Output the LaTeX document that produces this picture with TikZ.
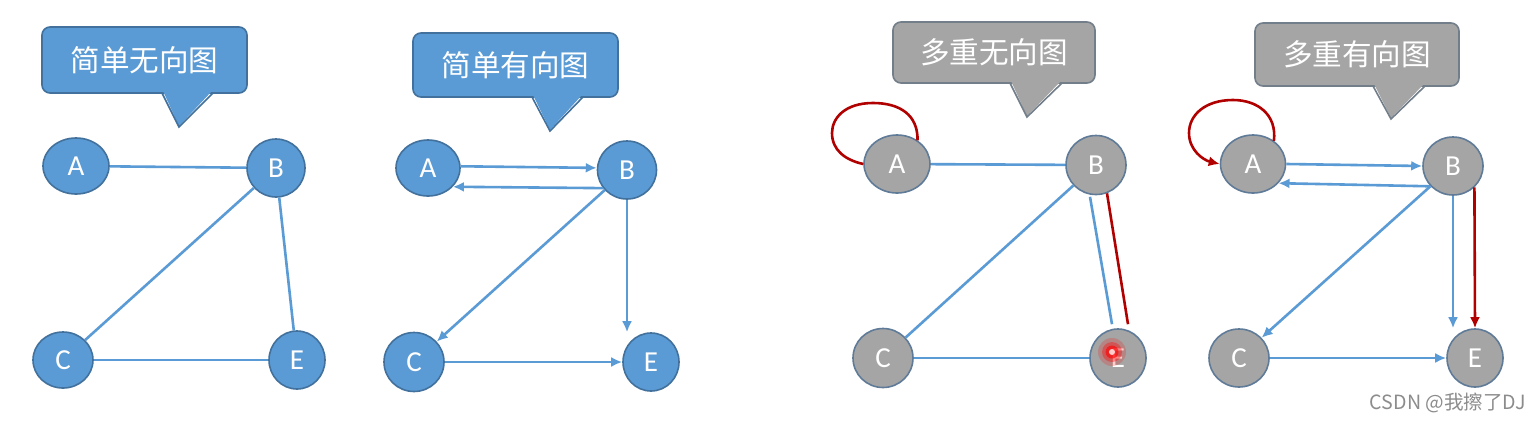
\documentclass[tikz,border=0pt]{standalone}
\usepackage{fontspec}
\setmainfont{Carlito}
\newfontfamily\cjk{Noto Sans CJK SC}
\usetikzlibrary{shapes.geometric,arrows.meta,calc}
\definecolor{bfill}{HTML}{5B9BD5}
\definecolor{bdraw}{HTML}{41719C}
\definecolor{gfill}{HTML}{A5A5A5}
\definecolor{gdraw}{HTML}{5F7B98}
\definecolor{cgdraw}{HTML}{727E8A}
\definecolor{eline}{HTML}{5B9BD5}
\definecolor{rline}{HTML}{B00000}
\definecolor{wm}{HTML}{8C8C8C}
\tikzset{
  vtx/.style={ellipse, inner sep=0pt, text=white, font=\fontsize{14.5}{15}\selectfont, line width=0.8pt},
  bv/.style={vtx, fill=bfill, draw=bdraw},
  gv/.style={vtx, fill=gfill, draw=gdraw},
  edgeline/.style={draw=eline, line width=1.3pt},
  arr/.style={edgeline, -{Latex[length=5.5pt,width=5pt]}},
  redline/.style={draw=rline, line width=1.3pt},
  rarr/.style={redline, -{Latex[length=5.5pt,width=5pt]}},
  callbox/.style={rectangle, rounded corners=4pt, inner sep=0pt, text=white,
    font=\cjk\fontsize{14.8}{16}\selectfont, line width=0.8pt},
  bcall/.style={callbox, fill=bfill, draw=bdraw},
  gcall/.style={callbox, fill=gfill, draw=cgdraw},
}
\begin{document}
\begin{tikzpicture}[x=0.5pt,y=-0.5pt]
\useasboundingbox[fill=white] (0,0) rectangle (1537,424);

% ---------- Panel 1 ----------
\node[bcall, minimum width=102.5pt, minimum height=33pt] (k1) at (144.5,60) {简单无向图};
\fill[bfill] (163,91) -- (179,126) -- (212,91) -- cycle;
\draw[bdraw, line width=0.8pt, line join=miter] (162,93) -- (179,127) -- (213,93);
\node[bv, minimum width=33pt, minimum height=28pt] (a1) at (76,166) {A};
\node[bv, minimum width=29pt, minimum height=29pt] (b1) at (276,168) {B};
\node[bv, minimum width=30pt, minimum height=28pt] (c1) at (63,360) {C};
\node[bv, minimum width=28pt, minimum height=29pt] (e1) at (297,360) {E};
\draw[edgeline] (a1) -- (b1);
\draw[edgeline] (b1) -- (c1);
\draw[edgeline] (b1) -- (e1);
\draw[edgeline] (c1) -- (e1);

% ---------- Panel 2 ----------
\node[bcall, minimum width=102.5pt, minimum height=32pt] (k2) at (515.5,65) {简单有向图};
\fill[bfill] (533,95) -- (550,130) -- (582,95) -- cycle;
\draw[bdraw, line width=0.8pt, line join=miter] (532,97) -- (550,131) -- (583,97);
\node[bv, minimum width=32pt, minimum height=28pt] (a2) at (428,168) {A};
\node[bv, minimum width=29.5pt, minimum height=29pt] (b2) at (627,170) {B};
\node[bv, minimum width=30pt, minimum height=29.5pt] (c2) at (414,362) {C};
\node[bv, minimum width=28pt, minimum height=29pt] (e2) at (651,362) {E};
\draw[arr] (a2.3) -- (b2.176);
\draw[arr] (b2.217) -- (a2.-37);
\draw[arr] (b2) -- (c2);
\draw[arr] (b2.south) -- (b2.south |- e2.north);
\draw[arr] (c2) -- (e2);

% ---------- Panel 3 ----------
\node[gcall, minimum width=101pt, minimum height=30.5pt] (k3) at (994,52.5) {多重无向图};
\fill[gfill] (1011,81) -- (1027,116) -- (1061,81) -- cycle;
\draw[cgdraw, line width=0.8pt, line join=miter] (1010,83) -- (1027,117) -- (1062,83);
\node[gv, minimum width=33pt, minimum height=29pt] (a3) at (897,164) {A};
\node[gv, minimum width=30pt, minimum height=29.5pt] (b3) at (1096,165) {B};
\node[gv, minimum width=30pt, minimum height=29.5pt] (c3) at (883,358) {C};
\node[gv, minimum width=28pt, minimum height=29pt] (e3) at (1118,358) {E};
\draw[redline] (a3.49) .. controls (918,115) and (900,103) .. (873,103)
  .. controls (845,103) and (832,118) .. (832,133)
  .. controls (832,150) and (845,160) .. (a3.180);
\draw[edgeline] (a3) -- (b3);
\draw[edgeline] (b3) -- (c3);
\draw[edgeline] ($(b3.south)+(-6,1.5)$) -- ($(e3.north)+(-6,-4)$);
\draw[redline] ($(b3.south)+(11,-2)$) -- ($(e3.north)+(10,-4)$);
\draw[edgeline] (c3) -- (e3);
\fill[red, opacity=0.2] ($(e3)+(-6,-6)$) circle (14);
\fill[red, opacity=0.35] ($(e3)+(-6,-6)$) circle (10);
\fill[red, opacity=0.6] ($(e3)+(-6,-6)$) circle (6.5);
\fill[red!20!white] ($(e3)+(-6,-6)$) circle (3);

% ---------- Panel 4 ----------
\node[gcall, minimum width=102pt, minimum height=31.5pt] (k4) at (1357,54.5) {多重有向图};
\fill[gfill] (1374,84) -- (1391,118) -- (1424,84) -- cycle;
\draw[cgdraw, line width=0.8pt, line join=miter] (1373,86) -- (1391,119) -- (1425,86);
\node[gv, minimum width=32.5pt, minimum height=29pt] (a4) at (1253,164) {A};
\node[gv, minimum width=30pt, minimum height=29pt] (b4) at (1453,166) {B};
\node[gv, minimum width=30pt, minimum height=29pt] (c4) at (1239,358) {C};
\node[gv, minimum width=28pt, minimum height=29pt] (e4) at (1475,358) {E};
\draw[rarr] (a4.48) .. controls (1277,115) and (1258,100) .. (1233,100)
  .. controls (1205,100) and (1189,115) .. (1189,133)
  .. controls (1189,150) and (1203,160) .. (a4.west);
\draw[arr] (a4.east) -- (b4.west);
\draw[arr] (b4.222) -- (a4.-37);
\draw[arr] (b4) -- (c4);
\draw[arr] (b4.south) -- (b4.south |- e4.north);
\draw[rarr] (b4.-45) -- (e4.north);
\draw[arr] (c4) -- (e4);

\node[text=wm, font=\cjk\fontsize{9.8}{11}\selectfont, inner sep=0pt] (wmk) at (1448,403) {CSDN @我擦了DJ};
\end{tikzpicture}
\end{document}
